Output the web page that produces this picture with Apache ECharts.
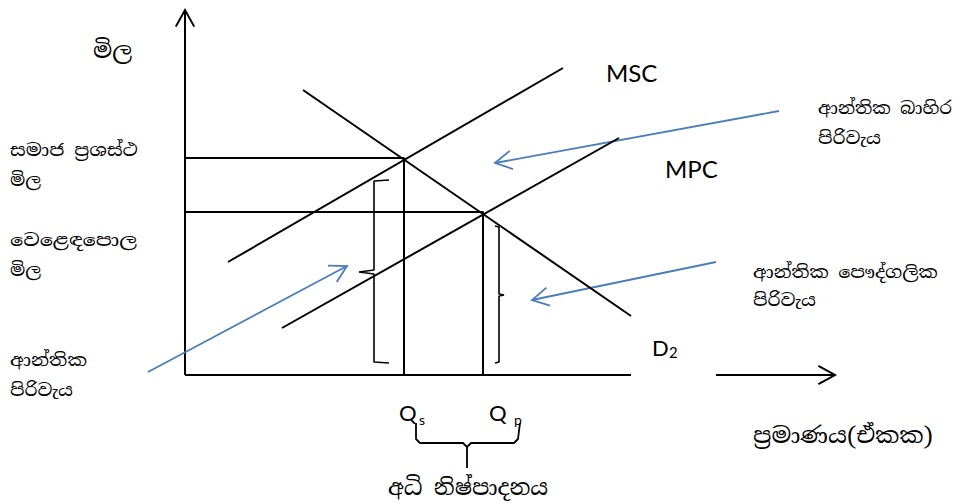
<!DOCTYPE html>
<html><head><meta charset="utf-8">
<script src="https://cdn.jsdelivr.net/npm/echarts@6/dist/echarts.min.js"></script>
<style>html,body{margin:0;padding:0;background:#fff}#c{width:960px;height:503px}</style>
</head><body><div id="c"></div>
<script>
// ---- data (quantity, price) in chart units; origin = axes intersection ----
const demandD2 = [[11.8, 28.5], [44.6, 5.9]];
const mscCurve = [[4.3, 11.3], [37.8, 30.7]];
const mpcCurve = [[9.7, 4.7], [43.4, 23.7]];
const socialOptimum = [21.9, 21.7];   // Qs , social optimum price
const marketEquilibrium = [29.8, 16.3]; // Qp , market price
const xAxisGapStart = 44.6;
const xAxisGapEnd = 53.1;
const yAxisTop = 36.5;
const xAxisEnd = 65;
// brackets
const bigBracket = [[20.4, 19.5], [18.9, 19.4], [18.9, 10.5], [17.4, 10.3], [18.9, 10.1], [18.9, 1.3], [20.4, 1.2]];
const smallBracket = [[31.0, 14.9], [31.4, 14.8], [31.4, 8.1], [31.9, 8.0], [31.4, 7.9], [31.4, 1.3], [31.0, 1.2]];
const overProductionBrace = [[23.1, -4.8], [23.1, -6.4], [23.5, -6.8], [27.8, -6.8], [28.2, -7.2], [28.2, -9.3], [28.2, -7.2], [28.6, -6.8], [32.9, -6.8], [33.3, -6.4], [33.5, -4.8]];
// annotation arrows [fromQ, fromP, toQ, toP]
const externalCostArrow = [59.4, 26.4, 31.0, 21.2];
const privateCostArrow = [53.1, 11.3, 34.7, 7.5];
const marginalCostArrow = [-3.7, 0.3, 16.2, 10.9];
// labels
const yAxisTitle = 'මිල';
const xAxisTitle = 'ප්‍රමාණය(ඒකක)';
const socialPriceLabel = ['සමාජ ප්‍රශස්ථ', 'මිල'];
const marketPriceLabel = ['වෙළෙඳපොල', 'මිල'];
const marginalCostLabel = ['ආන්තික', 'පිරිවැය'];
const externalCostLabel = ['ආන්තික බාහිර', 'පිරිවැය'];
const privateCostLabel = ['ආන්තික පෞද්ගලික', 'පිරිවැය'];
const overProductionLabel = 'අධි නිෂ්පාදනය';

const SIN = '"Iskoola Pota","Noto Serif Sinhala","Noto Sans Sinhala",sans-serif';
const LAT = 'Lato, "Open Sans", sans-serif';
const BLUE = '#4a7ebb';

const measureCtx = document.createElement('canvas').getContext('2d');

function arrowItem(width) {
  return function (params, api) {
    const p1 = api.coord([api.value(0), api.value(1)]);
    const p2 = api.coord([api.value(2), api.value(3)]);
    const a = Math.atan2(p1[1] - p2[1], p1[0] - p2[0]);
    const L = 19, t = Math.PI / 6.2;
    const w1 = [p2[0] + L * Math.cos(a + t), p2[1] + L * Math.sin(a + t)];
    const w2 = [p2[0] + L * Math.cos(a - t), p2[1] + L * Math.sin(a - t)];
    const c = api.visual('color');
    return {
      type: 'group', children: [
        { type: 'line', shape: { x1: p1[0], y1: p1[1], x2: p2[0], y2: p2[1] }, style: { stroke: c, lineWidth: width } },
        { type: 'polyline', shape: { points: [w1, p2, w2] }, style: { stroke: c, fill: 'none', lineWidth: width } }
      ]
    };
  };
}
function blackLine(data, w) {
  return { type: 'line', data: data, symbol: 'none', silent: true, clip: false,
    lineStyle: { color: '#000', width: w || 2 }, z: 3 };
}
// text at left x / middle y; optional target width -> horizontal stretch
function txt(s, x, y, size, font, width) {
  const f = size + 'px ' + font;
  let sx = 1;
  if (width) {
    measureCtx.font = f;
    const m = measureCtx.measureText(s).width;
    if (m > 0) sx = Math.max(0.85, Math.min(1.6, width / m));
  }
  return { type: 'text', x: x, y: y, scaleX: sx, z: 10,
    style: { text: s, font: f, fill: '#000', align: 'left', verticalAlign: 'middle' } };
}

const chart = echarts.init(document.getElementById('c'), null, { renderer: 'svg' });
chart.setOption({
  animation: false,
  backgroundColor: '#fff',
  grid: { left: 0, right: 0, top: 0, bottom: 0 },
  xAxis: { type: 'value', min: -18.5, max: 77.5, show: false },
  yAxis: { type: 'value', min: -12.8, max: 37.5, show: false },
  series: [
    blackLine(demandD2),
    blackLine(mscCurve),
    blackLine(mpcCurve),
    blackLine([[0, socialOptimum[1]], socialOptimum, [socialOptimum[0], 0]]),
    blackLine([[0, marketEquilibrium[1]], marketEquilibrium, [marketEquilibrium[0], 0]]),
    blackLine([[0, 0], [xAxisGapStart, 0]]),
    blackLine(bigBracket, 1.6),
    blackLine(smallBracket, 1.6),
    blackLine(overProductionBrace, 1.8),
    { type: 'custom', renderItem: arrowItem(2), clip: false, silent: true, itemStyle: { color: '#000' },
      data: [[0, 0, 0, yAxisTop], [xAxisGapEnd, 0, xAxisEnd, 0]] },
    { type: 'custom', renderItem: arrowItem(1.8), clip: false, silent: true, itemStyle: { color: BLUE },
      data: [externalCostArrow, privateCostArrow, marginalCostArrow] }
  ],
  graphic: [
    txt(yAxisTitle, 93, 50, 22, SIN, 39),
    txt(socialPriceLabel[0], 10, 150, 17, SIN, 128),
    txt(socialPriceLabel[1], 10, 180, 17, SIN, 31),
    txt(marketPriceLabel[0], 10, 240, 17, SIN, 127),
    txt(marketPriceLabel[1], 10, 270, 17, SIN, 31),
    txt(marginalCostLabel[0], 10, 360, 17, SIN, 77),
    txt(marginalCostLabel[1], 10, 390, 17, SIN, 63),
    txt('MSC', 606, 72, 24, LAT),
    txt('MPC', 665, 168, 24, LAT),
    txt(externalCostLabel[0], 818, 108, 17, SIN, 134),
    txt(externalCostLabel[1], 818, 138, 17, SIN, 63),
    txt(privateCostLabel[0], 753, 272, 17, SIN, 185),
    txt(privateCostLabel[1], 753, 300, 17, SIN, 63),
    txt('D', 652, 347, 22, LAT),
    txt('2', 669, 352, 15, LAT),
    txt('Q', 399, 412, 22, LAT),
    txt('s', 419, 419, 14, LAT),
    txt('Q', 489, 412, 22, LAT),
    txt('p', 514, 419, 14, LAT),
    txt(xAxisTitle, 753, 435, 22, SIN, 180),
    txt(overProductionLabel, 388, 488, 22, SIN, 160)
  ]
});
</script></body></html>
